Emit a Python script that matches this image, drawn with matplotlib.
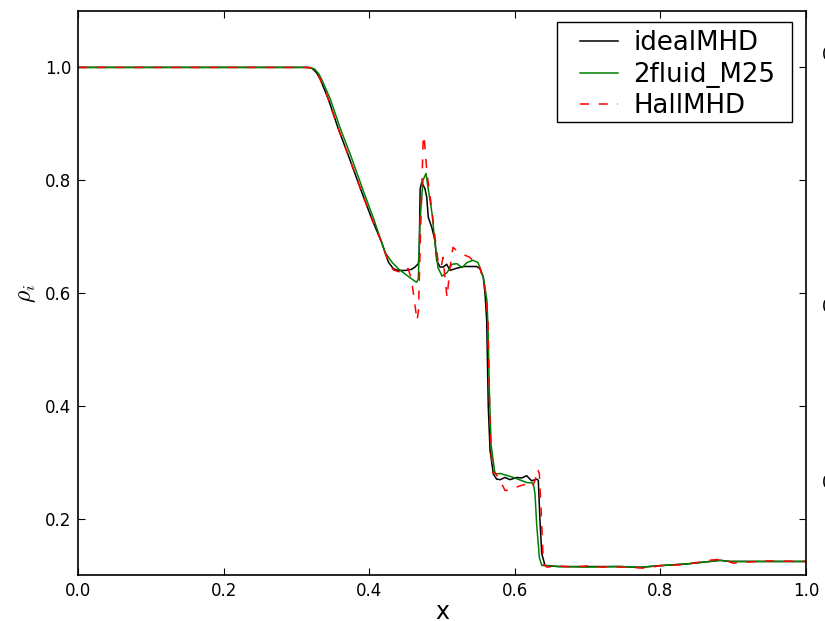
import numpy as np
import matplotlib
matplotlib.use('Agg')
import matplotlib.pyplot as plt
from matplotlib.patches import Rectangle

# density profiles
ideal_x = [0.0, 0.315, 0.322, 0.328, 0.3324, 0.3438, 0.3576, 0.3713, 0.3897, 0.4034, 0.4171, 0.4263,
           0.4332, 0.440, 0.450, 0.4583, 0.4629, 0.4675, 0.4686, 0.4700, 0.4721, 0.4766, 0.479, 0.4812,
           0.4858, 0.4904, 0.4927, 0.4973, 0.5018, 0.5064, 0.511, 0.5179, 0.5293, 0.5477, 0.5522, 0.5567,
           0.5591, 0.5614, 0.5636, 0.566, 0.5705, 0.5751, 0.580, 0.5865, 0.5934, 0.6026, 0.6095, 0.6163,
           0.6232, 0.630, 0.6323, 0.6346, 0.637, 0.6415, 0.66, 0.70, 0.7445, 0.772, 0.7995, 0.836, 0.868,
           0.882, 0.8956, 0.93, 1.0]
ideal_y = [1.0, 1.0, 0.998, 0.99, 0.98, 0.944, 0.891, 0.844, 0.779, 0.732, 0.690, 0.655,
           0.643, 0.640, 0.640, 0.642, 0.646, 0.652, 0.665, 0.785, 0.796, 0.785, 0.770, 0.734,
           0.717, 0.693, 0.658, 0.646, 0.646, 0.651, 0.640, 0.643, 0.647, 0.647, 0.643, 0.628,
           0.599, 0.551, 0.397, 0.321, 0.279, 0.270, 0.269, 0.273, 0.269, 0.273, 0.272, 0.276,
           0.267, 0.270, 0.268, 0.196, 0.138, 0.117, 0.115, 0.115, 0.115, 0.1136, 0.1166, 0.1196, 0.124,
           0.126, 0.124, 0.124, 0.124]

fluid_x = [0.0, 0.318, 0.325, 0.331, 0.335, 0.3465, 0.3605, 0.3745, 0.3925, 0.406, 0.4217, 0.431,
           0.440, 0.449, 0.4583, 0.465, 0.4675, 0.4698, 0.4739, 0.478, 0.4808, 0.4863, 0.4904, 0.4945,
           0.500, 0.5069, 0.5137, 0.5206, 0.5275, 0.5343, 0.5426, 0.5495, 0.5567, 0.5618, 0.5632, 0.5650,
           0.5675, 0.5728, 0.580, 0.598, 0.6163, 0.6254, 0.6277, 0.630, 0.6337, 0.637, 0.66, 0.70,
           0.7445, 0.772, 0.7995, 0.836, 0.868, 0.882, 0.8956, 0.93, 1.0]
fluid_y = [1.0, 1.0, 0.997, 0.988, 0.978, 0.944, 0.891, 0.844, 0.779, 0.732, 0.672, 0.655,
           0.643, 0.634, 0.625, 0.619, 0.625, 0.728, 0.80, 0.812, 0.787, 0.741, 0.688, 0.645,
           0.630, 0.636, 0.651, 0.652, 0.645, 0.654, 0.658, 0.654, 0.628, 0.586, 0.538, 0.43,
           0.33, 0.279, 0.280, 0.273, 0.264, 0.263, 0.244, 0.191, 0.131, 0.117, 0.115, 0.114,
           0.115, 0.1136, 0.1166, 0.1196, 0.124, 0.126, 0.124, 0.124, 0.124]

hall_x = [0.0, 0.315, 0.322, 0.328, 0.3324, 0.3438, 0.3576, 0.3713, 0.3897, 0.4034, 0.4171, 0.4263,
          0.4332, 0.440, 0.449, 0.4533, 0.4574, 0.4602, 0.4657, 0.4677, 0.4698, 0.4725, 0.4743, 0.4753,
          0.4794, 0.4863, 0.4904, 0.4945, 0.4986, 0.5014, 0.5041, 0.5069, 0.511, 0.5151, 0.5206, 0.5316,
          0.5385, 0.5453, 0.5522, 0.5591, 0.5632, 0.5650, 0.567, 0.5705, 0.5728, 0.580, 0.5865, 0.5957,
          0.6026, 0.6095, 0.6186, 0.6232, 0.6277, 0.631, 0.6337, 0.637, 0.6392, 0.6438, 0.66, 0.68,
          0.70, 0.72, 0.75, 0.78, 0.80, 0.826, 0.85, 0.865, 0.885, 0.90, 0.92, 0.95, 1.0]
hall_y = [1.0, 1.0, 0.998, 0.99, 0.98, 0.944, 0.891, 0.844, 0.779, 0.732, 0.690, 0.655,
          0.641, 0.638, 0.636, 0.6435, 0.6275, 0.6044, 0.551, 0.569, 0.670, 0.80, 0.876, 0.879,
          0.812, 0.746, 0.698, 0.658, 0.645, 0.663, 0.6275, 0.592, 0.645, 0.681, 0.675, 0.667,
          0.663, 0.652, 0.645, 0.610, 0.551, 0.42, 0.32, 0.28, 0.282, 0.267, 0.250, 0.250,
          0.256, 0.259, 0.262, 0.256, 0.267, 0.288, 0.280, 0.191, 0.120, 0.114, 0.116, 0.114,
          0.116, 0.114, 0.114, 0.112, 0.1166, 0.118, 0.122, 0.126, 0.128, 0.121, 0.123, 0.125, 0.124]

labels = ['idealMHD', '2fluid_M25', 'HallMHD']

plt.rcParams['font.family'] = ['DejaVu Sans']
plt.rcParams['mathtext.fontset'] = 'cm'
plt.rcParams['lines.scale_dashes'] = False

fig = plt.figure(figsize=(8.25, 6.21), dpi=100)
ax = fig.add_axes([78/825, 46/621, 728/825, 564/621])

ax.plot(ideal_x, ideal_y, color='k', lw=1.1, label=labels[0])
ax.plot(fluid_x, fluid_y, color='g', lw=1.1, label=labels[1])
ax.plot(hall_x, hall_y, color='r', lw=1.1, dashes=(6.5, 7.0), label=labels[2])

ax.set_xlim(0, 1)
ax.set_ylim(0.1, 1.1)
ax.set_xticks([0.0, 0.2, 0.4, 0.6, 0.8, 1.0])
ax.set_yticks([0.2, 0.4, 0.6, 0.8, 1.0])
ax.tick_params(direction='in', top=True, right=True, length=5, width=0.8, labelsize=12, pad=5)
for s in ax.spines.values():
    s.set_linewidth(1.2)

ax.set_xlabel('x', fontsize=17, labelpad=0)
ax.set_ylabel(r'$\rho_i$', fontsize=17, labelpad=5)

# legend box drawn separately so its padding matches the old style
frame = Rectangle((0.658, 0.8032), 0.9808 - 0.658, 0.9805 - 0.8032, transform=ax.transAxes,
                  facecolor='white', edgecolor='k', lw=1.0, zorder=4.5)
ax.add_patch(frame)
leg = ax.legend(loc='upper left', bbox_to_anchor=(0.6896, 0.9663), borderaxespad=0,
                fontsize=18.7, frameon=False, handlelength=1.45, borderpad=0,
                handletextpad=0.6, labelspacing=0.22)

# tick labels of a neighbouring panel, cut off at the right edge
for yy in [55, 307, 483]:
    fig.text(822/825, 1 - yy/621, '0.', fontsize=12, va='center', ha='left')

fig.savefig('out.png', dpi=100)
